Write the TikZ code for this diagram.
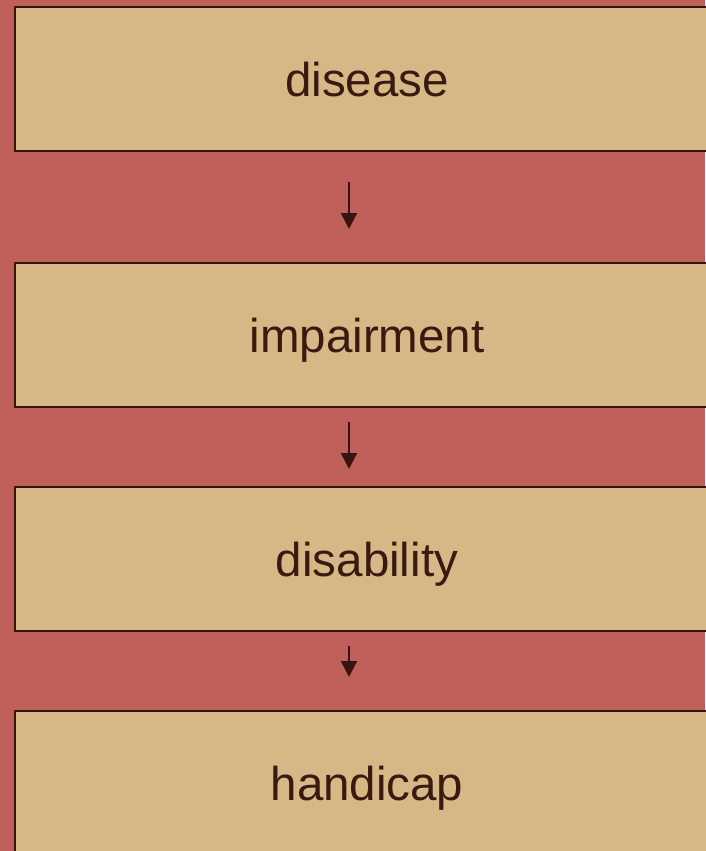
\documentclass[tikz,border=0pt]{standalone}
\usepackage{fontspec}
\setmainfont{Liberation Sans}
\usetikzlibrary{arrows.meta}
\definecolor{bgred}{HTML}{C0605A}
\definecolor{boxfill}{HTML}{D5B885}
\definecolor{edge}{HTML}{381410}
\definecolor{ink}{HTML}{3A1A10}
\tikzset{
  stagebox/.style={draw=edge, fill=boxfill, line width=2pt, minimum width=704pt, minimum height=144pt, inner sep=0pt, text height=34pt, text depth=0pt, text=ink, font=\fontsize{47.5pt}{56pt}\selectfont, anchor=north west},
  flow/.style={draw=edge, line width=2pt, -{Triangle[width=16pt,length=16pt]}}
}
\begin{document}
\begin{tikzpicture}[x=1pt,y=-1pt]
\fill[bgred] (0,0) rectangle (705,851);
\useasboundingbox (0,0) rectangle (705,851);
\node[stagebox] (b1) at (14,6) {disease};
\node[stagebox] (b2) at (14,262) {impairment};
\node[stagebox] (b3) at (14,486) {disability};
\node[stagebox] (b4) at (14,710) {handicap};
\coordinate (a1s) at (349,182); \coordinate (a1e) at (349,229);
\coordinate (a2s) at (349,422); \coordinate (a2e) at (349,469);
\coordinate (a3s) at (349,646); \coordinate (a3e) at (349,677);
\draw[flow] (a1s) -- (a1e);
\draw[flow] (a2s) -- (a2e);
\draw[flow] (a3s) -- (a3e);
\end{tikzpicture}
\end{document}
